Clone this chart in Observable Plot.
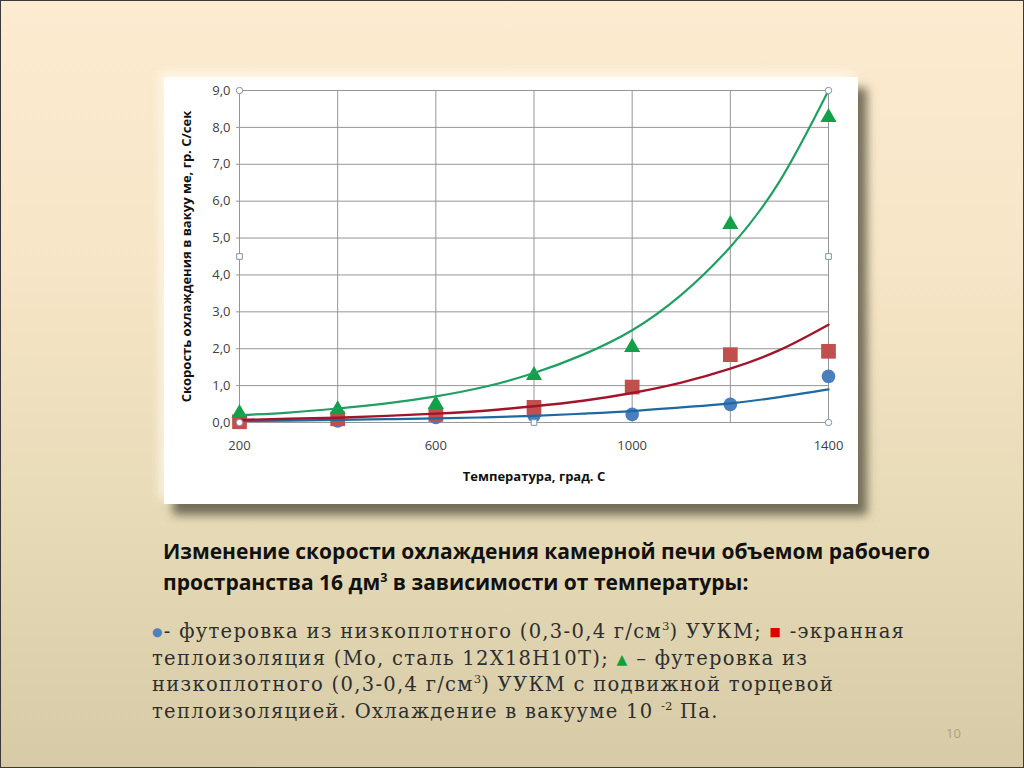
<!DOCTYPE html>
<html><head><meta charset="utf-8">
<script src="https://cdn.jsdelivr.net/npm/d3@7"></script>
<script src="https://cdn.jsdelivr.net/npm/@observablehq/plot@0.6"></script>
<style>
html,body{margin:0;padding:0;}
body{width:1024px;height:768px;position:relative;overflow:hidden;background:linear-gradient(to bottom,#fcebd0 0%,#f6e5c6 35%,#e6dab6 70%,#d6cba6 100%);}
#frame{position:absolute;left:0;top:0;width:1022px;height:766px;border:1px solid #3a3a3a;}
#chart{position:absolute;left:164px;top:77px;width:694px;height:427px;background:#fff;box-shadow:9px 11px 9px rgba(95,90,72,0.85),-5px -5px 9px rgba(255,250,235,0.8);}
#chart svg{display:block;}
#title{position:absolute;left:163px;top:536px;font:bold 21px "Open Sans",sans-serif;line-height:31px;color:#111;white-space:nowrap;}
#caption{position:absolute;left:152px;top:619px;font:19.5px "DejaVu Serif",serif;letter-spacing:1.3px;line-height:26.5px;color:#2e2e2e;white-space:nowrap;}
sup{font-size:0.6em;line-height:0;vertical-align:0.65em;letter-spacing:0;}
#page{position:absolute;left:946px;top:724px;font:13px "Open Sans",sans-serif;color:#a9a188;}
g[aria-label="y-axis label"] text, g[aria-label="x-axis label"] text{font-weight:bold;fill:#111;}
</style></head>
<body>
<div id="frame"></div>
<div id="chart"></div>
<div id="title">Изменение скорости охлаждения камерной печи объемом рабочего<br>пространства 16 дм<sup>3</sup> в зависимости от температуры:</div>
<div id="caption"><span style="color:#4f81bd;font-size:12px;vertical-align:2px">●</span>- футеровка из низкоплотного (0,3-0,4 г/см<sup>3</sup>) УУКМ; <span style="color:#e00000;font-size:12px;vertical-align:2px">■</span> -экранная<br>теплоизоляция (Мо, сталь 12Х18Н10Т); <span style="color:#10a040;font-size:14px;vertical-align:1px">▲</span> – футеровка из<br>низкоплотного (0,3-0,4 г/см<sup>3</sup>) УУКМ с подвижной торцевой<br>теплоизоляцией. Охлаждение в вакууме 10 <sup>-2</sup> Па.</div>
<div id="page">10</div>
<script>
// Measured data (temperature, °C)
const temps = [200, 400, 600, 800, 1000, 1200, 1400];
const blueVals = [0.03, 0.04, 0.14, 0.19, 0.22, 0.49, 1.25];
const redVals = [0.02, 0.10, 0.22, 0.41, 0.96, 1.84, 1.93];
const greenVals = [0.25, 0.35, 0.49, 1.28, 2.04, 5.37, 8.27];

// Trend lines
const trendTemps = [200, 300, 400, 500, 600, 700, 800, 900, 1000, 1100, 1200, 1300, 1400];
const blueTrend = [0.04, 0.05, 0.07, 0.09, 0.11, 0.14, 0.18, 0.24, 0.31, 0.41, 0.52, 0.69, 0.90];
const redTrend = [0.07, 0.10, 0.13, 0.18, 0.24, 0.32, 0.44, 0.59, 0.80, 1.08, 1.46, 1.96, 2.65];
const greenTrend = [0.20, 0.27, 0.38, 0.52, 0.71, 0.97, 1.34, 1.84, 2.50, 3.46, 4.76, 6.53, 9.0];

// Axis ticks
const xTicks = [200, 600, 1000, 1400];
const xGrid = [200, 400, 600, 800, 1000, 1200, 1400];
const yTicks = [0, 1, 2, 3, 4, 5, 6, 7, 8, 9];

// Selection handles of the chart object (data coordinates)
const handleCircleX = [200, 1400, 1400, 200];
const handleCircleY = [9, 9, 0, 0];
const handleSquareX = [200, 1400, 800];
const handleSquareY = [4.5, 4.5, 0];

const pts = (vals) => temps.map((t, i) => ({t, v: vals[i]}));
const trend = (vals) => trendTemps.map((t, i) => ({t, v: vals[i]}));
const hc = handleCircleX.map((x, i) => ({x, y: handleCircleY[i]}));
const hs = handleSquareX.map((x, i) => ({x, y: handleSquareY[i]}));

const chart = Plot.plot({
  width: 694, height: 427,
  marginLeft: 75, marginRight: 30, marginTop: 13, marginBottom: 82,
  style: {background: "#fff", fontFamily: "'Open Sans', sans-serif", fontSize: "13px", color: "#404040"},
  x: {domain: [200, 1400]},
  y: {domain: [0, 9]},
  marks: [
    Plot.gridX(xGrid, {stroke: "#969696", strokeOpacity: 1}),
    Plot.gridY(yTicks, {stroke: "#969696", strokeOpacity: 1}),
    Plot.axisY({ticks: yTicks, tickFormat: d => d.toFixed(1).replace(".", ","), tickSize: 3, tickPadding: 6,
      stroke: "#969696", label: "Скорость охлаждения в вакуу ме, гр. С/сек", labelAnchor: "center", labelArrow: "none", labelOffset: 58, fontSize: 13}),
    Plot.axisX({ticks: xTicks, tickFormat: d => String(d), tickSize: 0, tickPadding: 18, label: "Температура, град. С", labelAnchor: "center", labelArrow: "none", labelOffset: 58, fontSize: 13}),
    Plot.dot(pts(blueVals), {x: "t", y: "v", r: 6.8, fill: "#4a7ebf", symbol: "circle"}),
    Plot.dot(pts(redVals), {x: "t", y: "v", r: 8.3, fill: "#c0504d", symbol: "square"}),
    Plot.dot(pts(greenVals), {x: "t", y: "v", r: 6, fill: "#12a048", symbol: "triangle"}),
    Plot.line(trend(blueTrend), {x: "t", y: "v", stroke: "#1c6aa0", strokeWidth: 2.2, curve: "natural"}),
    Plot.line(trend(redTrend), {x: "t", y: "v", stroke: "#a3142a", strokeWidth: 2.4, curve: "natural"}),
    Plot.line(trend(greenTrend), {x: "t", y: "v", stroke: "#1fa062", strokeWidth: 2.2, curve: "natural"}),
    Plot.dot(hc, {x: "x", y: "y", r: 3.2, fill: "#fff", stroke: "#7d94a6", strokeWidth: 1}),
    Plot.dot(hs, {x: "x", y: "y", r: 3.2, symbol: "square", fill: "#fff", stroke: "#7d94a6", strokeWidth: 1})
  ]
});
document.getElementById("chart").appendChild(chart);
</script>
</body></html>
